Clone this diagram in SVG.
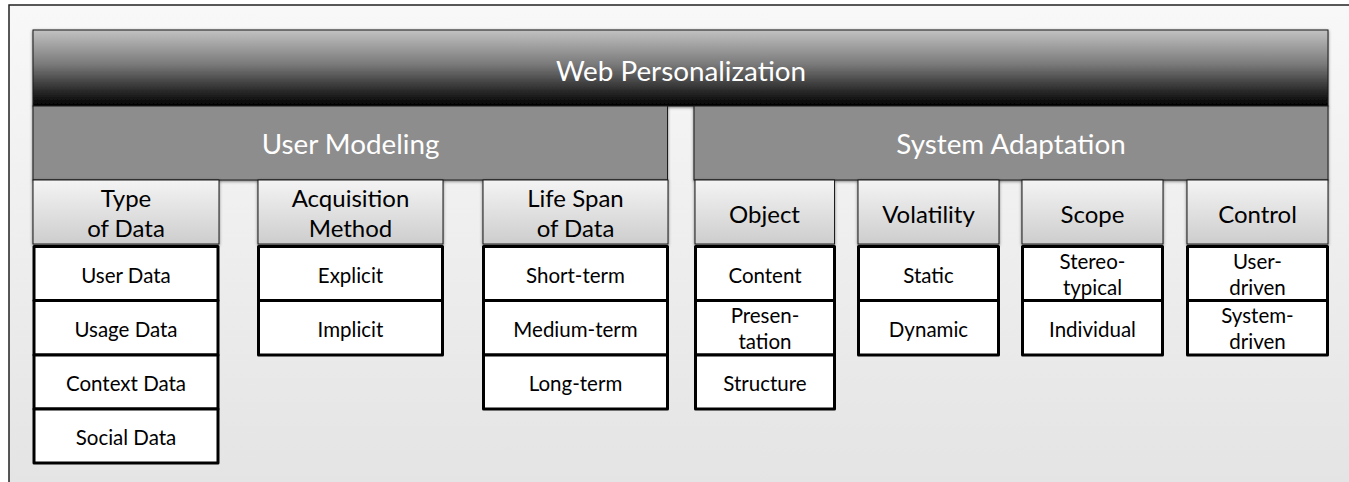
<svg xmlns="http://www.w3.org/2000/svg" width="1349" height="482" viewBox="0 0 1349 482">
<defs>
<linearGradient id="bg" x1="0" y1="0" x2="0" y2="1"><stop offset="0" stop-color="#f8f8f8"/><stop offset="1" stop-color="#e4e4e4"/></linearGradient>
<linearGradient id="top" x1="0" y1="0" x2="0" y2="1"><stop offset="0" stop-color="#c2c2c2"/><stop offset="0.45" stop-color="#7a7a7a"/><stop offset="0.8" stop-color="#2a2a2a"/><stop offset="1" stop-color="#000"/></linearGradient>
<linearGradient id="hdr" x1="0" y1="0" x2="0" y2="1"><stop offset="0" stop-color="#f4f4f4"/><stop offset="1" stop-color="#cdcdcd"/></linearGradient>
<filter id="sh" x="-10%" y="-10%" width="120%" height="130%"><feDropShadow dx="0" dy="1" stdDeviation="1.8" flood-color="#000" flood-opacity="0.5"/></filter>
<style>
.t{font-family:Lato,"Liberation Sans",sans-serif;text-anchor:middle}
.w{fill:#fff}
.big{font-size:27.8px}
.h{font-size:24px;fill:#000}
.i{font-size:20.5px;fill:#000}
.bar{stroke:#1a1a1a;stroke-width:1}
.hd{fill:url(#hdr);stroke:#1a1a1a;stroke-width:1;filter:url(#sh)}
.cell{fill:#fff;stroke:#000;stroke-width:3;stroke-linejoin:round}
</style>
</defs>
<rect x="9" y="5" width="1345" height="482" fill="url(#bg)" stroke="#222" stroke-width="1.5"/>

<g id="web-personalization">
<rect class="bar" x="33" y="30" width="1295" height="76" fill="url(#top)" filter="url(#sh)"/>
<text class="t w big" x="681" y="81">Web Personalization</text>
</g>
<g id="user-modeling">
<rect class="bar" x="33" y="106" width="634.5" height="74" fill="#8d8d8d" filter="url(#sh)"/>
<text class="t w big" x="350.5" y="154">User Modeling</text>
</g>
<g id="system-adaptation">
<rect class="bar" x="694" y="106" width="634" height="74" fill="#8d8d8d" filter="url(#sh)"/>
<text class="t w big" x="1011" y="154">System Adaptation</text>
</g>

<g id="type-of-data">
<rect class="hd" x="33" y="180" width="186" height="64"/>
<text class="t h" x="126" y="207">Type</text><text class="t h" x="126" y="237">of Data</text>
</g>
<g id="acquisition-method">
<rect class="hd" x="258" y="180" width="185" height="64"/>
<text class="t h" x="350.5" y="207">Acquisition</text><text class="t h" x="350.5" y="237">Method</text>
</g>
<g id="life-span-of-data">
<rect class="hd" x="483" y="180" width="185" height="64"/>
<text class="t h" x="575.5" y="207">Life Span</text><text class="t h" x="575.5" y="237">of Data</text>
</g>
<g id="object">
<rect class="hd" x="695" y="180" width="139.5" height="64"/>
<text class="t h" x="764.5" y="223">Object</text>
</g>
<g id="volatility">
<rect class="hd" x="858" y="180" width="141" height="64"/>
<text class="t h" x="928.5" y="223">Volatility</text>
</g>
<g id="scope">
<rect class="hd" x="1022" y="180" width="141" height="64"/>
<text class="t h" x="1092.5" y="223">Scope</text>
</g>
<g id="control">
<rect class="hd" x="1187" y="180" width="141" height="64"/>
<text class="t h" x="1257.5" y="223">Control</text>
</g>

<g id="user-data"><rect class="cell" x="34" y="246.5" width="184" height="54"/><text class="t i" x="126" y="283">User Data</text></g>
<g id="usage-data"><rect class="cell" x="34" y="300.5" width="184" height="54.5"/><text class="t i" x="126" y="337">Usage Data</text></g>
<g id="context-data"><rect class="cell" x="34" y="355" width="184" height="54"/><text class="t i" x="126" y="391">Context Data</text></g>
<g id="social-data"><rect class="cell" x="34" y="409" width="184" height="54"/><text class="t i" x="126" y="445">Social Data</text></g>

<g id="explicit"><rect class="cell" x="258.5" y="246.5" width="184" height="54"/><text class="t i" x="350.5" y="283">Explicit</text></g>
<g id="implicit"><rect class="cell" x="258.5" y="300.5" width="184" height="54.5"/><text class="t i" x="350.5" y="337">Implicit</text></g>

<g id="short-term"><rect class="cell" x="483.5" y="246.5" width="184" height="54"/><text class="t i" x="575.5" y="283">Short-term</text></g>
<g id="medium-term"><rect class="cell" x="483.5" y="300.5" width="184" height="54.5"/><text class="t i" x="575.5" y="337">Medium-term</text></g>
<g id="long-term"><rect class="cell" x="483.5" y="355" width="184" height="54"/><text class="t i" x="575.5" y="391">Long-term</text></g>

<g id="content"><rect class="cell" x="695.5" y="246.5" width="139" height="54"/><text class="t i" x="765" y="283">Content</text></g>
<g id="presentation"><rect class="cell" x="695.5" y="300.5" width="139" height="54.5"/><text class="t i" x="765" y="323">Presen-</text><text class="t i" x="765" y="349">tation</text></g>
<g id="structure"><rect class="cell" x="695.5" y="355" width="139" height="54"/><text class="t i" x="765" y="391">Structure</text></g>

<g id="static"><rect class="cell" x="858.5" y="246.5" width="140" height="54"/><text class="t i" x="928.5" y="283">Static</text></g>
<g id="dynamic"><rect class="cell" x="858.5" y="300.5" width="140" height="54.5"/><text class="t i" x="928.5" y="337">Dynamic</text></g>

<g id="stereotypical"><rect class="cell" x="1022.5" y="246.5" width="140" height="54"/><text class="t i" x="1092.5" y="269">Stereo-</text><text class="t i" x="1092.5" y="295">typical</text></g>
<g id="individual"><rect class="cell" x="1022.5" y="300.5" width="140" height="54.5"/><text class="t i" x="1092.5" y="337">Individual</text></g>

<g id="user-driven"><rect class="cell" x="1187.5" y="246.5" width="140" height="54"/><text class="t i" x="1257.5" y="269">User-</text><text class="t i" x="1257.5" y="295">driven</text></g>
<g id="system-driven"><rect class="cell" x="1187.5" y="300.5" width="140" height="54.5"/><text class="t i" x="1257.5" y="323">System-</text><text class="t i" x="1257.5" y="349">driven</text></g>

<g id="connectors"/>
</svg>
